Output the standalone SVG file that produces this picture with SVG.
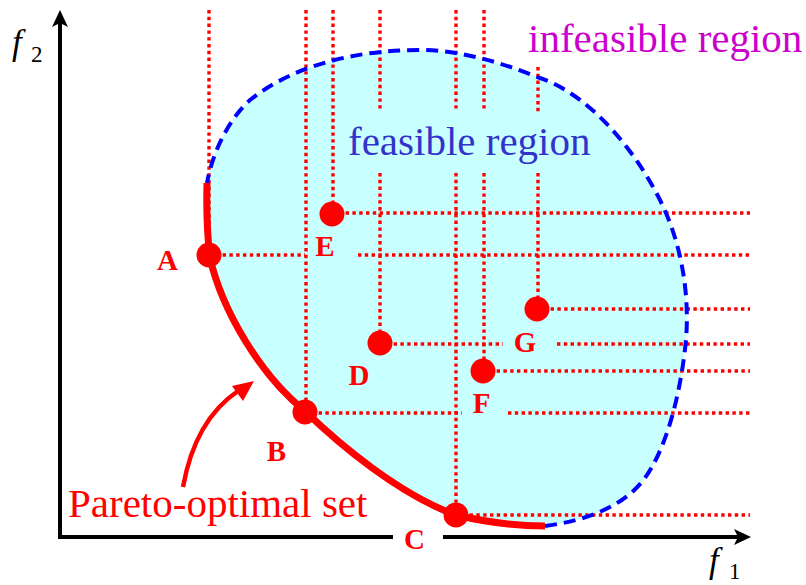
<svg xmlns="http://www.w3.org/2000/svg" width="806" height="585" viewBox="0 0 806 585">
<style>
.dot{stroke:#FF0000;stroke-width:3.4;stroke-dasharray:3.4 3.4;fill:none}
.axis{stroke:#000;stroke-width:4;fill:none}
.pt{fill:#FF0000}
.lbl{font-family:"Liberation Serif","Times New Roman",serif;font-weight:bold;font-size:29px;fill:#FF0000;text-anchor:middle}
.big{font-family:"Liberation Serif","Times New Roman",serif;font-size:41px}
.math{font-family:"Liberation Serif","Times New Roman",serif;fill:#000}
</style>
<rect width="806" height="585" fill="#FFFFFF"/>
<g id="region">
<path d="M545,526 C590,520 625,505 645,478 C665,450 680,400 686,340 C690,290 680,240 660,200 C635,150 590,95 540,78 C500,62 460,50 420,50 C350,50 290,68 250,100 C230,118 213,150 207,183 Q206,225 210,258 C222,310 260,375 305,411 C340,445 400,495 456,515 C490,523 520,526 545,526 Z" fill="#C8FFFF"/>
</g>
<g id="guides">
<path class="dot" d="M209,10 V255 M306,10 V411 M333,10 V213 M380,10 V112 M380,173 V343 M456,10 V112 M456,173 V515 M484,10 V112 M484,173 V370 M538,67 V112 M538,173 V309"/>
<path class="dot" d="M332,213 H750 M209,255 H305 M358,255 H750 M537,309 H750 M380,344 H503 M557,344 H750 M483,371 H750 M305,413 H462 M508,413 H750 M456,515 H750"/>
</g>
<g id="boundary">
<path d="M545,526 C590,520 625,505 645,478 C665,450 680,400 686,340 C690,290 680,240 660,200 C635,150 590,95 540,78 C500,62 460,50 420,50 C350,50 290,68 250,100 C230,118 213,150 207,183" fill="none" stroke="#0000FF" stroke-width="4" stroke-dasharray="12 7"/>
</g>
<g id="pareto">
<path d="M207,183 Q206,225 210,258 C222,310 260,375 305,411 C340,445 400,495 456,515 C490,523 520,526 545,526" fill="none" stroke="#FF0000" stroke-width="7"/>
</g>
<g id="axes">
<path class="axis" d="M60,538 V22"/>
<path d="M60,10 L68,27 L60,23 L52,27 Z" fill="#000"/>
<path class="axis" d="M58,537 H393 M443,537 H738"/>
<path d="M751,537 L734,529 L738,537 L734,545 Z" fill="#000"/>
<text class="math" x="12" y="54" font-size="35" font-style="italic">f</text>
<text class="math" x="31" y="62" font-size="23">2</text>
<text class="math" x="709" y="572" font-size="35" font-style="italic">f</text>
<text class="math" x="729" y="579" font-size="23">1</text>
</g>
<g id="A"><circle class="pt" cx="209" cy="255" r="12.5"/><text class="lbl" x="167.5" y="270">A</text></g>
<g id="B"><circle class="pt" cx="305" cy="412" r="12.5"/><text class="lbl" x="276.5" y="461">B</text></g>
<g id="C"><circle class="pt" cx="456" cy="515" r="12.5"/><text class="lbl" x="414.5" y="549">C</text></g>
<g id="D"><circle class="pt" cx="380" cy="343" r="12.5"/><text class="lbl" x="359" y="385">D</text></g>
<g id="E"><circle class="pt" cx="332" cy="214" r="12.5"/><text class="lbl" x="325" y="256">E</text></g>
<g id="F"><circle class="pt" cx="483" cy="371" r="12.5"/><text class="lbl" x="481.5" y="413">F</text></g>
<g id="G"><circle class="pt" cx="537" cy="309" r="12.5"/><text class="lbl" x="525" y="352">G</text></g>
<g id="pareto-label">
<path d="M183,487 Q195,420 238,391" fill="none" stroke="#FF0000" stroke-width="4.5"/>
<path d="M254,381 L232,386 L243,401 Z" fill="#FF0000"/>
<text class="big" x="68" y="517" fill="#FF0000">Pareto-optimal set</text>
</g>
<text class="big" x="348" y="155" fill="#3333CC">feasible region</text>
<text class="big" x="528" y="52" fill="#CC00CC">infeasible region</text>
</svg>
